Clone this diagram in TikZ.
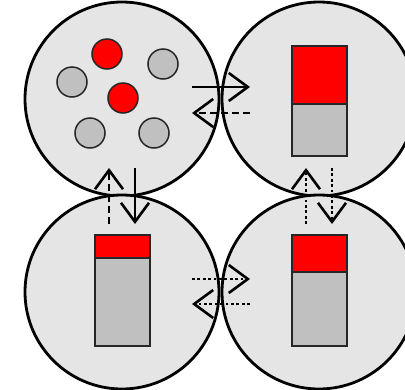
\documentclass[tikz,border=0pt]{standalone}
\usetikzlibrary{arrows.meta}
\definecolor{cellbg}{HTML}{E5E5E5}
\definecolor{partgray}{HTML}{C0C0C0}
\definecolor{partred}{HTML}{FF0000}
\tikzset{
  cell/.style={circle, draw=black, line width=2.8pt, fill=cellbg, minimum size=194pt, inner sep=0pt},
  ball/.style={circle, draw=black!85, line width=1.5pt, minimum size=30pt, inner sep=0pt},
  grayball/.style={ball, fill=partgray},
  redball/.style={ball, fill=partred},
  bar/.style={draw=black!85, line width=1.5pt},
  flow/.style={line width=2.6pt, -{Straight Barb[length=19pt, width=28pt, line width=2.6pt]}},
  solidflow/.style={flow},
  dashflow/.style={flow, dash pattern=on 7pt off 4pt},
  dotflow/.style={flow, dash pattern=on 2.8pt off 2.6pt},
}
\begin{document}
\begin{tikzpicture}[x=1pt, y=-1pt]
\useasboundingbox (0,0) rectangle (405,389);

% the four cells
\node[cell] (tl) at (122,99) {};
\node[cell] (tr) at (319,99) {};
\node[cell] (bl) at (122,292) {};
\node[cell] (br) at (319,292) {};

% particles in the first cell
\node[redball]  (r1) at (107,54) {};
\node[redball]  (r2) at (123,98) {};
\node[grayball] (g1) at (163,64) {};
\node[grayball] (g2) at (72,82) {};
\node[grayball] (g3) at (90,133) {};
\node[grayball] (g4) at (154,133) {};

% stacked bars
\fill[partgray] (292,104) rectangle (347,156);
\fill[partred]  (292,46) rectangle (347,104);
\draw[bar] (292,104) -- (347,104);
\draw[bar] (292,46) rectangle (347,156);

\fill[partgray] (95,258) rectangle (150,346);
\fill[partred]  (95,235) rectangle (150,258);
\draw[bar] (95,258) -- (150,258);
\draw[bar] (95,235) rectangle (150,346);

\fill[partgray] (292,272) rectangle (347,346);
\fill[partred]  (292,235) rectangle (347,272);
\draw[bar] (292,272) -- (347,272);
\draw[bar] (292,235) rectangle (347,346);

% arrow end points
\coordinate (h1a) at (192,87);  \coordinate (h1b) at (250,87);
\coordinate (h2a) at (250,113); \coordinate (h2b) at (192,113);
\coordinate (h3a) at (192,279); \coordinate (h3b) at (250,279);
\coordinate (h4a) at (250,304); \coordinate (h4b) at (192,304);
\coordinate (v1a) at (109,224); \coordinate (v1b) at (109,168);
\coordinate (v2a) at (135,168); \coordinate (v2b) at (135,224);
\coordinate (v3a) at (306,224); \coordinate (v3b) at (306,168);
\coordinate (v4a) at (332,168); \coordinate (v4b) at (332,224);

% exchanges between cells
\draw[solidflow] (h1a) -- (h1b);
\draw[dashflow]  (h2a) -- (h2b);
\draw[dotflow]   (h3a) -- (h3b);
\draw[dotflow]   (h4a) -- (h4b);
\draw[dashflow]  (v1a) -- (v1b);
\draw[solidflow] (v2a) -- (v2b);
\draw[dotflow]   (v3a) -- (v3b);
\draw[dotflow]   (v4a) -- (v4b);
\end{tikzpicture}
\end{document}
